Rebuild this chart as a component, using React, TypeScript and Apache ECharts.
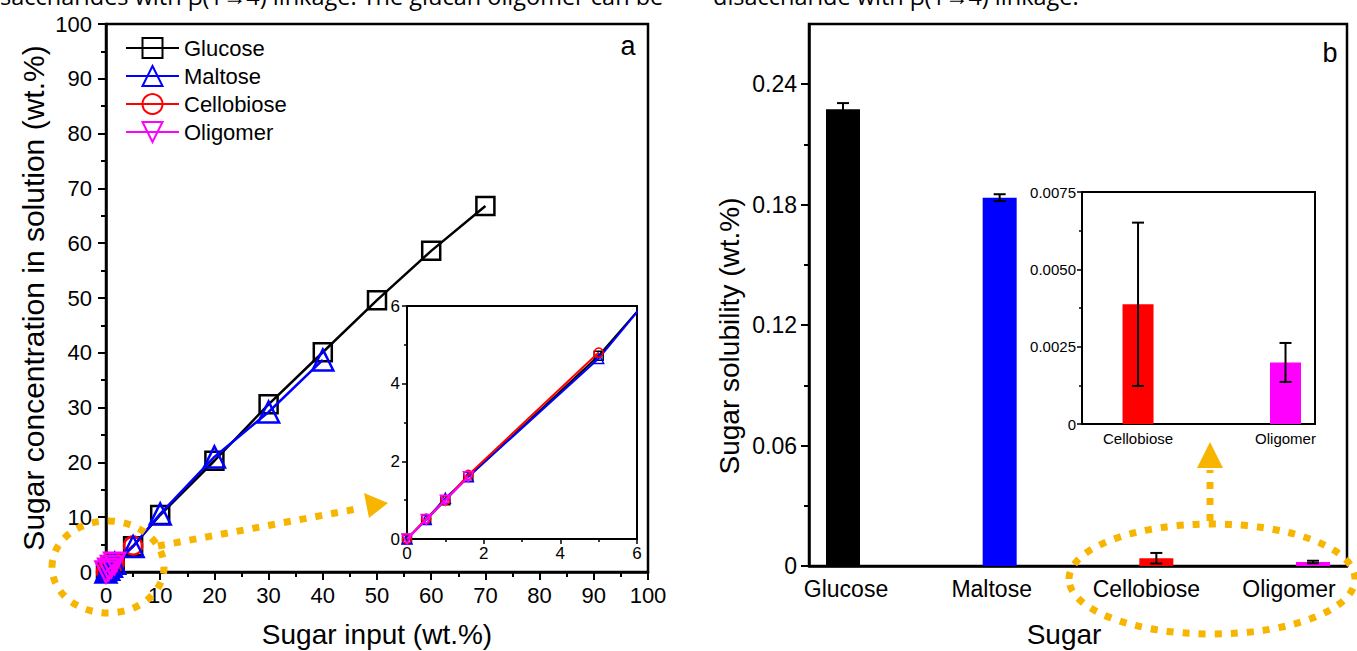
import React, { useEffect, useRef } from 'react';
import * as echarts from 'echarts';

// ---------- Data ----------
const sugarNames = ['Glucose', 'Maltose', 'Cellobiose', 'Oligomer'];

// Panel a: sugar input (wt.%) vs concentration in solution (wt.%)
const glucoseX = [0, 0.5, 1, 1.6, 5, 10, 20, 30, 40, 50, 60, 70];
const glucoseY = [0, 0.5, 1.0, 1.6, 4.72, 10.4, 20.3, 30.6, 40.1, 49.6, 58.6, 66.8];
const maltoseX = [0, 0.5, 1, 1.6, 5, 10, 20, 30, 40];
const maltoseY = [0, 0.5, 1.05, 1.6, 4.65, 10.6, 21.0, 29.2, 38.7];
const cellobioseX = [0, 0.5, 1, 1.6, 5];
const cellobioseY = [0, 0.52, 1.0, 1.65, 4.8];
const oligomerX = [0, 0.5, 1, 1.6];
const oligomerY = [0, 0.5, 1.0, 1.6];

// Panel b: sugar solubility (wt.%) with error
const solubility = [0.2275, 0.1835, 0.00387, 0.00199];
const solubilityErr = [0.0031, 0.0017, 0.00264, 0.00063];

// Tick values
const aMainTicks = { min: 0, max: 100, interval: 10 };
const aInsetTicks = { min: 0, max: 6, interval: 2 };
const bMainLabels = [0, 0.06, 0.12, 0.18, 0.24];
const bMainMinor = [0.03, 0.09, 0.15, 0.21];
const bInsetTicks = { min: 0, max: 0.0075, interval: 0.0025 };

const seriesColors = ['#000000', '#0000ff', '#ff0000', '#ff00ff'];

const FONT = "'Liberation Sans', Arial, sans-serif";
const YELLOW = '#F7B500';

function lineSeries(
  name: string, xs: number[], ys: number[], color: string, symbol: string,
  size: number, rotate: number, axis: number, lw: number, bw: number, z: number
) {
  return {
    type: 'line', name, xAxisIndex: axis, yAxisIndex: axis,
    data: xs.map((x, i) => [x, ys[i]]),
    symbol, symbolSize: size, symbolRotate: rotate,
    lineStyle: { color, width: lw },
    itemStyle: { color: 'rgba(255,255,255,0)', borderColor: color, borderWidth: bw },
    emphasis: { disabled: true },
    z, clip: true,
  };
}

function errorRender(capHalf: number) {
  return (params: any, api: any) => {
    const x = api.value(0), y = api.value(1), e = api.value(2);
    const top = api.coord([x, y + e]);
    const bot = api.coord([x, y - e]);
    const style = { stroke: '#000', lineWidth: 2, fill: 'none' };
    return {
      type: 'group',
      children: [
        { type: 'line', shape: { x1: top[0], y1: top[1], x2: bot[0], y2: bot[1] }, style },
        { type: 'line', shape: { x1: top[0] - capHalf, y1: top[1], x2: top[0] + capHalf, y2: top[1] }, style },
        { type: 'line', shape: { x1: bot[0] - capHalf, y1: bot[1], x2: bot[0] + capHalf, y2: bot[1] }, style },
      ],
    };
  };
}

const axisLineStyle = (w: number) => ({ show: true, lineStyle: { color: '#000', width: w } });

export default function App() {
  const ref = useRef<HTMLDivElement>(null);
  useEffect(() => {
    if (!ref.current) return;
    const chart = echarts.init(ref.current, null, { renderer: 'svg' });

    const shift = [6, -16, -20, -48];
    const rich: any = {};
    shift.forEach((s, i) => {
      rich['p' + i] = {
        fontSize: 23, fontFamily: FONT, color: '#000',
        padding: s >= 0 ? [0, 0, 0, s] : [0, -s, 0, 0],
      };
    });

    const option: any = {
      animation: false,
      backgroundColor: '#fff',
      grid: [
        { left: 106, top: 24, width: 542, height: 548, show: true, borderColor: '#000', borderWidth: 2.5, backgroundColor: 'transparent', outerBoundsMode: 'none' },
        { left: 407, top: 306, width: 230, height: 233, show: true, borderColor: '#000', borderWidth: 2, backgroundColor: '#fff', outerBoundsMode: 'none' },
        { left: 809, top: 24, width: 538, height: 542, show: true, borderColor: '#000', borderWidth: 2.5, backgroundColor: 'transparent', outerBoundsMode: 'none' },
        { left: 1082, top: 192, width: 233, height: 232, show: true, borderColor: '#000', borderWidth: 2, backgroundColor: '#fff', outerBoundsMode: 'none' },
      ],
      xAxis: [
        {
          gridIndex: 0, type: 'value', ...aMainTicks,
          axisLine: axisLineStyle(2.5),
          axisTick: { show: true, length: 8, lineStyle: { color: '#000', width: 2 } },
          minorTick: { show: true, splitNumber: 2, length: 5, lineStyle: { color: '#000', width: 2 } },
          splitLine: { show: false },
          axisLabel: { fontSize: 22, fontFamily: FONT, color: '#000', margin: 12 },
          name: 'Sugar input (wt.%)', nameLocation: 'middle', nameGap: 48,
          nameTextStyle: { fontSize: 28, fontFamily: FONT, color: '#000' },
        },
        {
          gridIndex: 1, type: 'value', ...aInsetTicks,
          axisLine: axisLineStyle(2),
          axisTick: { show: true, length: 5, lineStyle: { color: '#000', width: 1.5 } },
          minorTick: { show: true, splitNumber: 2, length: 3, lineStyle: { color: '#000', width: 1.5 } },
          splitLine: { show: false },
          axisLabel: { fontSize: 17, fontFamily: FONT, color: '#000', margin: 6 },
        },
        {
          gridIndex: 2, type: 'value', min: 0.783, max: 4.217,
          axisLine: axisLineStyle(2.5),
          axisTick: { show: false },
          splitLine: { show: false },
          axisLabel: {
            customValues: [1, 2, 3, 4],
            margin: 11,
            formatter: (v: number) => {
              const i = Math.round(v) - 1;
              return '{p' + i + '|' + sugarNames[i] + '}';
            },
            rich,
          },
          name: 'Sugar', nameLocation: 'middle', nameGap: 54,
          nameTextStyle: { fontSize: 28, fontFamily: FONT, color: '#000', padding: [0, 28, 0, 0] },
        },
        {
          gridIndex: 3, type: 'value', min: 0.62, max: 2.2,
          axisLine: axisLineStyle(2),
          axisTick: { show: false },
          splitLine: { show: false },
          axisLabel: {
            customValues: [1, 2],
            fontSize: 15, fontFamily: FONT, color: '#000', margin: 7,
            formatter: (v: number) => sugarNames[Math.round(v) + 1],
          },
        },
      ],
      yAxis: [
        {
          gridIndex: 0, type: 'value', ...aMainTicks,
          axisLine: axisLineStyle(2.5),
          axisTick: { show: true, length: 8, lineStyle: { color: '#000', width: 2 } },
          minorTick: { show: true, splitNumber: 2, length: 5, lineStyle: { color: '#000', width: 2 } },
          splitLine: { show: false },
          axisLabel: { fontSize: 22, fontFamily: FONT, color: '#000', margin: 14 },
          name: 'Sugar concentration in solution (wt.%)', nameLocation: 'middle', nameGap: 58,
          nameTextStyle: { fontSize: 30, fontFamily: FONT, color: '#000' },
        },
        {
          gridIndex: 1, type: 'value', ...aInsetTicks,
          axisLine: axisLineStyle(2),
          axisTick: { show: true, length: 5, lineStyle: { color: '#000', width: 1.5 } },
          minorTick: { show: true, splitNumber: 2, length: 3, lineStyle: { color: '#000', width: 1.5 } },
          splitLine: { show: false },
          axisLabel: { fontSize: 17, fontFamily: FONT, color: '#000', margin: 7 },
        },
        {
          gridIndex: 2, type: 'value', min: 0, max: 0.27,
          axisLine: axisLineStyle(2.5),
          axisTick: { show: true, length: 8, customValues: bMainLabels, lineStyle: { color: '#000', width: 2 } },
          splitLine: { show: false },
          axisLabel: {
            customValues: bMainLabels,
            fontSize: 23, fontFamily: FONT, color: '#000', margin: 12,
            formatter: (v: number) => (v === 0 ? '0' : v.toFixed(2)),
          },
          name: 'Sugar solubility (wt.%)', nameLocation: 'middle', nameGap: 66,
          nameTextStyle: { fontSize: 28, fontFamily: FONT, color: '#000', padding: [0, 82, 0, 0] },
        },
        {
          gridIndex: 2, type: 'value', min: 0, max: 0.27, position: 'left',
          axisLine: { show: false },
          axisTick: { show: true, length: 5, customValues: bMainMinor, lineStyle: { color: '#000', width: 2 } },
          splitLine: { show: false },
          axisLabel: { show: false },
        },
        {
          gridIndex: 3, type: 'value', ...bInsetTicks,
          axisLine: axisLineStyle(2),
          axisTick: { show: true, length: 5, lineStyle: { color: '#000', width: 1.5 } },
          minorTick: { show: true, splitNumber: 2, length: 3, lineStyle: { color: '#000', width: 1.5 } },
          splitLine: { show: false },
          axisLabel: {
            fontSize: 15, fontFamily: FONT, color: '#000', margin: 6,
            formatter: (v: number) => (v === 0 ? '0' : v.toFixed(4)),
          },
        },
      ],
      legend: {
        data: sugarNames,
        orient: 'vertical', left: 125, top: 37, padding: 0,
        itemWidth: 53, itemHeight: 25, itemGap: 6,
        textStyle: { fontSize: 22, fontFamily: FONT, color: '#000' },
        selectedMode: false,
      },
      series: [
        lineSeries(sugarNames[0], glucoseX, glucoseY, seriesColors[0], 'rect', 18, 0, 0, 2.5, 2.5, 2),
        lineSeries(sugarNames[2], cellobioseX, cellobioseY, seriesColors[2], 'circle', 18, 0, 0, 2.5, 2.5, 3),
        lineSeries(sugarNames[1], maltoseX, maltoseY, seriesColors[1], 'triangle', 21, 0, 0, 2.5, 2.5, 4),
        lineSeries(sugarNames[3], oligomerX, oligomerY, seriesColors[3], 'triangle', 21, 180, 0, 2.5, 2.5, 5),
        lineSeries(sugarNames[0], glucoseX, glucoseY, seriesColors[0], 'rect', 9, 0, 1, 2, 1.5, 6),
        lineSeries(sugarNames[1], maltoseX, maltoseY, seriesColors[1], 'triangle', 10, 0, 1, 2, 1.5, 7),
        lineSeries(sugarNames[2], cellobioseX, cellobioseY, seriesColors[2], 'circle', 9, 0, 1, 2, 1.5, 8),
        lineSeries(sugarNames[3], oligomerX, oligomerY, seriesColors[3], 'triangle', 10, 180, 1, 2, 1.5, 9),
        {
          type: 'bar', name: 'Solubility', xAxisIndex: 2, yAxisIndex: 2, barWidth: 34,
          data: solubility.map((v, i) => ({ value: [i + 1, v], itemStyle: { color: seriesColors[i] } })),
          emphasis: { disabled: true }, z: 2,
        },
        {
          type: 'custom', name: 'Solubility error', xAxisIndex: 2, yAxisIndex: 2,
          renderItem: errorRender(6),
          encode: { x: 0, y: 1 },
          data: solubility.map((v, i) => [i + 1, v, solubilityErr[i]]),
          z: 3, silent: true,
        },
        {
          type: 'bar', name: 'Solubility inset', xAxisIndex: 3, yAxisIndex: 4, barWidth: 31,
          data: solubility.slice(2).map((v, i) => ({ value: [i + 1, v], itemStyle: { color: seriesColors[i + 2] } })),
          emphasis: { disabled: true }, z: 2,
        },
        {
          type: 'custom', name: 'Solubility inset error', xAxisIndex: 3, yAxisIndex: 4,
          renderItem: errorRender(6),
          encode: { x: 0, y: 1 },
          data: solubility.slice(2).map((v, i) => [i + 1, v, solubilityErr[i + 2]]),
          z: 3, silent: true,
        },
      ],
      graphic: [
        { type: 'text', x: 0, y: -4, z: 50, style: { text: 'saccharides with β(1→4) linkage. The glucan oligomer can be', fontSize: 23.5, fontFamily: "'Open Sans', sans-serif", fill: '#000', verticalAlign: 'middle' } },
        { type: 'text', x: 713, y: -4, z: 50, style: { text: 'disaccharide with β(1→4) linkage.', fontSize: 23.5, fontFamily: "'Open Sans', sans-serif", fill: '#000', verticalAlign: 'middle' } },
        { type: 'text', x: 628, y: 46, z: 50, style: { text: 'a', fontSize: 27, fontFamily: FONT, fill: '#000', align: 'center', verticalAlign: 'middle' } },
        { type: 'text', x: 1330, y: 53, z: 50, style: { text: 'b', fontSize: 27, fontFamily: FONT, fill: '#000', align: 'center', verticalAlign: 'middle' } },
        { type: 'ellipse', z: 60, shape: { cx: 108, cy: 567, rx: 56, ry: 46 }, style: { fill: 'none', stroke: YELLOW, lineWidth: 7, lineDash: [7, 9] } },
        { type: 'line', z: 60, shape: { x1: 158, y1: 546, x2: 362, y2: 508 }, style: { stroke: YELLOW, lineWidth: 7, lineDash: [7, 9] } },
        { type: 'polygon', z: 60, shape: { points: [[388, 503], [364, 493], [369, 518]] }, style: { fill: YELLOW } },
        { type: 'ellipse', z: 60, shape: { cx: 1212, cy: 579, rx: 143, ry: 55 }, style: { fill: 'none', stroke: YELLOW, lineWidth: 7, lineDash: [7, 9] } },
        { type: 'line', z: 60, shape: { x1: 1210, y1: 521, x2: 1210, y2: 470 }, style: { stroke: YELLOW, lineWidth: 7, lineDash: [7, 9] } },
        { type: 'polygon', z: 60, shape: { points: [[1210, 442], [1197, 468], [1223, 468]] }, style: { fill: YELLOW } },
      ],
    };
    chart.setOption(option);
    return () => chart.dispose();
  }, []);
  return (
    <div
      ref={ref}
      style={{ position: 'fixed', left: 0, top: 0, width: 1357, height: 651, background: '#fff' }}
    />
  );
}
